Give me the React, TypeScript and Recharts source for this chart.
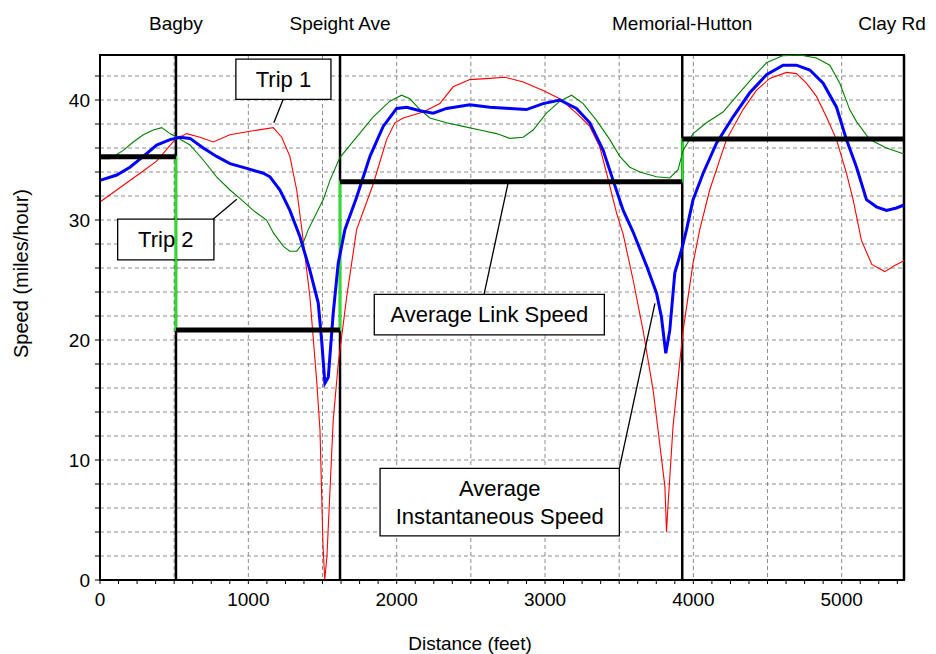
import React from "react";
import {
  LineChart,
  Line,
  XAxis,
  YAxis,
  CartesianGrid,
  ReferenceArea,
  ReferenceLine,
} from "recharts";

const FONT = "'Liberation Sans', Arial, sans-serif";

const MAX_DIST = 5420;
const MAX_SPEED = 43.75;

// Trip 1 (red)
const trip1Dist = [
  0, 270, 382, 505, 584, 674, 764, 876, 1011, 1168, 1225, 1280, 1326, 1359, 1415,
  1460, 1483, 1503, 1515, 1530, 1572, 1606, 1663, 1730, 1842, 1932, 1988, 2044,
  2179, 2291, 2381, 2493, 2628, 2729, 2853, 2987, 3100, 3212, 3302, 3369, 3415,
  3482, 3527, 3594, 3661, 3729, 3762, 3808, 3819, 3830, 3863, 3931, 3998, 4043,
  4110, 4223, 4335, 4425, 4515, 4628, 4695, 4762, 4830, 4897, 4965, 5032, 5077,
  5133, 5203, 5290, 5358, 5420,
];
const trip1Speed = [
  31.5, 33.9, 34.9, 36.7, 37.2, 36.9, 36.5, 37.1, 37.4, 37.7, 36.9, 35.3, 32.5, 29.4, 23.6,
  16.7, 12.5, 3, 0, 2, 13.3, 18, 23.6, 29.2, 33, 36.7, 38.1, 38.5,
  39, 39.7, 41.1, 41.7, 41.8, 41.9, 41.5, 40.8, 40.1, 38.9, 37.8, 36.1, 33.9,
  30.6, 28.8, 25, 20.8, 15.8, 12.5, 7.8, 4.0, 6.4, 12.8, 20.8, 26.4, 29.2,
  32.5, 36.7, 39.2, 40.8, 41.8, 42.3, 42.2, 41.4, 40.3, 38.6, 36.7, 33.9, 31.7,
  28.3, 26.3, 25.7, 26.2, 26.6,
];

// Trip 2 (green)
const trip2Dist = [
  0, 67, 157, 224, 292, 359, 416, 472, 517, 607, 696, 786, 876, 943, 1033, 1123,
  1170, 1236, 1280, 1326, 1370, 1404, 1505, 1550, 1617, 1730, 1842, 1954, 2033,
  2089, 2157, 2224, 2336, 2448, 2561, 2673, 2763, 2853, 2920, 3010, 3100, 3179,
  3257, 3347, 3437, 3504, 3572, 3639, 3752, 3841, 3897, 3931, 3998, 4088, 4200,
  4290, 4403, 4493, 4605, 4717, 4830, 4920, 4987, 5054, 5100, 5189, 5302, 5420,
];
const trip2Speed = [
  35.1, 35.1, 35.8, 36.5, 37.1, 37.5, 37.7, 37.2, 36.9, 36.25, 35, 33.6, 32.5, 31.8, 30.8, 30,
  28.9, 27.8, 27.4, 27.4, 28.1, 29.2, 31.7, 33.3, 35.2, 36.9, 38.6, 39.9, 40.4,
  40.1, 39.2, 38.5, 38.1, 37.8, 37.5, 37.2, 36.8, 36.9, 37.5, 38.9, 39.9, 40.4,
  39.7, 38.3, 36.7, 35.3, 34.4, 34, 33.6, 33.5, 34.2, 35.8, 37.2, 38.1, 39,
  40.3, 41.9, 43.1, 43.7, 43.75, 43.5, 42.9, 41.4, 39.2, 38.2, 36.7, 36, 35.5,
];

// Average instantaneous speed (blue)
const avgDist = [
  0, 113, 202, 292, 382, 472, 539, 607, 696, 786, 876, 989, 1101, 1146, 1213, 1280,
  1348, 1415, 1471, 1494, 1516, 1539, 1572, 1606, 1651, 1730, 1820, 1909, 2000,
  2067, 2157, 2246, 2336, 2493, 2628, 2763, 2875, 2987, 3100, 3212, 3302, 3392,
  3459, 3527, 3594, 3684, 3752, 3785, 3814, 3841, 3875, 3920, 3954, 3998, 4066,
  4156, 4268, 4380, 4493, 4605, 4695, 4785, 4875, 4965, 5032, 5100, 5167, 5234,
  5302, 5369, 5420,
];
const avgSpeed = [
  33.3, 33.75, 34.4, 35.3, 36.25, 36.7, 36.9, 36.8, 36, 35.3, 34.7, 34.3, 33.9, 33.6, 32.5, 30.8,
  28.6, 25.8, 23.1, 20, 16.4, 16.9, 22.2, 26.4, 29.2, 31.9, 35.3, 37.8, 39.3,
  39.4, 39.1, 38.9, 39.3, 39.6, 39.4, 39.3, 39.2, 39.7, 40, 39.3, 38.1, 35.8,
  33.3, 30.8, 29.0, 26.2, 23.9, 21.9, 18.9, 20.8, 25.6, 27.5, 29.2, 31.7, 33.9,
  36.4, 38.6, 40.6, 42.1, 42.9, 42.9, 42.5, 41.4, 39.4, 36.7, 34.4, 31.7, 31.1,
  30.8, 31, 31.25,
];

// intersections and average link speed
const crossNames = ["Bagby", "Speight Ave", "Memorial-Hutton", "Clay Rd"];
const crossDist = [512, 1618, 3925, 5420];
const linkStart = [0, 512, 1618, 3925];
const linkEnd = [512, 1618, 3925, 5420];
const linkSpeed = [35.27, 20.83, 33.19, 36.75];

const xLabelTicks = [0, 1000, 2000, 3000, 4000, 5000];
const yLabelTicks = [0, 10, 20, 30, 40];

const xTicks = Array.from({ length: 44 }, (_, i) => i * 125);
const yTicks = Array.from({ length: 22 }, (_, i) => i * 2);
const yMinorTicks = Array.from({ length: 88 }, (_, i) => i * 0.5);
const gridX = [500, 1000, 1500, 2000, 2500, 3000, 3500, 4000, 4500, 5000];

const notes = [
  { lines: ["Trip 1"], x1: 916, x2: 1557, y1: 40.06, y2: 43.4, from: [1235, 40.06], to: [1172, 38.1] },
  { lines: ["Trip 2"], x1: 119, x2: 768, y1: 26.67, y2: 30.08, from: [764, 30.08], to: [922, 31.72] },
  { lines: ["Average Link Speed"], x1: 1849, x2: 3400, y1: 20.42, y2: 23.81, from: [2589, 23.81], to: [2753, 33.19] },
  { lines: ["Average", "Instantaneous Speed"], x1: 1888, x2: 3501, y1: 3.67, y2: 9.31, from: [3501, 9.31], to: [3741, 23.06] },
];

const toPoints = (dist: number[], speed: number[]) => dist.map((d, i) => ({ d, v: speed[i] }));

function TopLabel(props: any) {
  const { viewBox, text, dx = 0 } = props;
  return (
    <text x={viewBox.x + dx} y={viewBox.y - 32} textAnchor="middle" dominantBaseline="central"
      fontFamily={FONT} fontSize={19} fill="#000">
      {text}
    </text>
  );
}

function BoxText(props: any) {
  const { viewBox, lines } = props;
  const cx = viewBox.x + viewBox.width / 2;
  const cy = viewBox.y + viewBox.height / 2;
  const lh = 28;
  return (
    <text x={cx} y={cy} textAnchor="middle" fontFamily={FONT} fontSize={22} fill="#000">
      {lines.map((l: string, i: number) => (
        <tspan key={i} x={cx} y={cy + (i - (lines.length - 1) / 2) * lh} dominantBaseline="central">
          {l}
        </tspan>
      ))}
    </text>
  );
}

function XTitle(props: any) {
  const { viewBox } = props;
  return (
    <text x={viewBox.x + 370} y={viewBox.y + 63} textAnchor="middle" dominantBaseline="central"
      fontFamily={FONT} fontSize={19} fill="#000">
      Distance (feet)
    </text>
  );
}

function YTitle(props: any) {
  const { viewBox } = props;
  const x = viewBox.x + 21;
  const y = viewBox.y + viewBox.height / 2 - 44;
  return (
    <text x={x} y={y} transform={`rotate(-90, ${x}, ${y})`} textAnchor="middle" dominantBaseline="central"
      fontFamily={FONT} fontSize={20} fill="#000">
      Speed (miles/hour)
    </text>
  );
}

export default function App() {
  const trip1 = toPoints(trip1Dist, trip1Speed);
  const trip2 = toPoints(trip2Dist, trip2Speed);
  const avg = toPoints(avgDist, avgSpeed);
  const linkStep = [
    ...linkStart.map((d, i) => ({ d, v: linkSpeed[i] })),
    { d: MAX_DIST, v: linkSpeed[linkSpeed.length - 1] },
  ];

  return (
    <div style={{ position: "absolute", left: 0, top: 0, background: "#fff" }}>
      <LineChart width={936} height={654} margin={{ top: 55, right: 32, bottom: 14, left: 0 }}>
        <CartesianGrid
          stroke="#8c8c8c"
          strokeDasharray="4 3"
          horizontalValues={yTicks.filter((t) => t > 0)}
          verticalValues={gridX}
        />
        <XAxis
          dataKey="d"
          type="number"
          domain={[0, MAX_DIST]}
          ticks={xTicks}
          interval={0}
          tickFormatter={(v: number) => (xLabelTicks.includes(v) ? String(v) : "")}
          tickSize={4}
          tickMargin={9}
          tick={{ fill: "#000", fontSize: 19, fontFamily: FONT }}
          tickLine={{ stroke: "#000" }}
          axisLine={{ stroke: "#000", strokeWidth: 2 }}
          height={60}
          label={<XTitle />}
        />
        <YAxis
          yAxisId="minor"
          type="number"
          domain={[0, MAX_SPEED]}
          ticks={yMinorTicks}
          interval={0}
          width={0}
          tickSize={2}
          tickFormatter={() => ""}
          axisLine={false}
          tickLine={{ stroke: "#000" }}
        />
        <YAxis
          type="number"
          domain={[0, MAX_SPEED]}
          ticks={yTicks}
          interval={0}
          tickFormatter={(v: number) => (yLabelTicks.includes(v) ? String(v) : "")}
          width={100}
          tickSize={5}
          tickMargin={5}
          tick={{ fill: "#000", fontSize: 19, fontFamily: FONT }}
          tickLine={{ stroke: "#000" }}
          axisLine={{ stroke: "#000", strokeWidth: 2 }}
          label={<YTitle />}
        />
        <ReferenceArea x1={0} x2={MAX_DIST} y1={0} y2={MAX_SPEED} fill="none" stroke="#000" strokeWidth={2} />

        {crossDist.map((d, i) => (
          <Line
            key={"cross" + i}
            data={[{ d, v: 0 }, { d, v: MAX_SPEED }]}
            dataKey="v"
            stroke="#000"
            strokeWidth={2.5}
            dot={false}
            activeDot={false}
            isAnimationActive={false}
          />
        ))}
        {crossDist.map((d, i) => (
          <ReferenceLine
            key={"lbl" + i}
            x={d}
            stroke="none"
            label={<TopLabel text={crossNames[i]} dx={i === crossDist.length - 1 ? -12 : 0} />}
          />
        ))}

        <Line data={linkStep} dataKey="v" type="stepAfter" stroke="#00ff00" strokeWidth={2}
          dot={false} activeDot={false} isAnimationActive={false} />

        <Line data={trip1} dataKey="v" stroke="#ff0000" strokeWidth={1.1}
          dot={false} activeDot={false} isAnimationActive={false} />
        <Line data={trip2} dataKey="v" stroke="#008000" strokeWidth={1.1}
          dot={false} activeDot={false} isAnimationActive={false} />
        <Line data={avg} dataKey="v" stroke="#0000ff" strokeWidth={3}
          dot={false} activeDot={false} isAnimationActive={false} />

        {linkStart.map((d, i) => (
          <Line
            key={"link" + i}
            data={[{ d, v: linkSpeed[i] }, { d: linkEnd[i], v: linkSpeed[i] }]}
            dataKey="v"
            stroke="#000"
            strokeWidth={5}
            dot={false}
            activeDot={false}
            isAnimationActive={false}
          />
        ))}

        {notes.map((n, i) => (
          <Line
            key={"lead" + i}
            data={[{ d: n.from[0], v: n.from[1] }, { d: n.to[0], v: n.to[1] }]}
            dataKey="v"
            stroke="#000"
            strokeWidth={1.3}
            dot={false}
            activeDot={false}
            isAnimationActive={false}
          />
        ))}
        {notes.map((n, i) => (
          <ReferenceArea
            key={"box" + i}
            x1={n.x1}
            x2={n.x2}
            y1={n.y1}
            y2={n.y2}
            fill="#fff"
            fillOpacity={1}
            stroke="#000"
            strokeWidth={1.3}
            label={<BoxText lines={n.lines} />}
          />
        ))}
      </LineChart>
    </div>
  );
}
